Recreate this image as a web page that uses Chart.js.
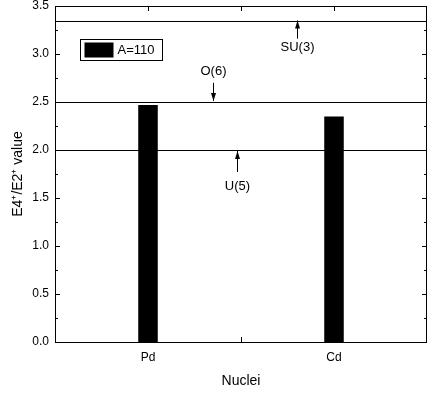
<!DOCTYPE html>
<html>
<head>
<meta charset="utf-8">
<script src="https://cdn.jsdelivr.net/npm/chart.js"></script>
<style>
  html, body { margin: 0; padding: 0; background: #fff; }
  #wrap { width: 432px; height: 394px; }
</style>
</head>
<body>
<div id="wrap"><canvas id="chart" width="432" height="394"></canvas></div>
<script>
const nuclei = ['Pd', 'Cd'];
const ratioA110 = [2.47, 2.35];
const seriesLabel = 'A=110';
// symmetry limits of E4/E2
const limitNames = ['SU(3)', 'O(6)', 'U(5)'];
const limitValues = [3.34, 2.5, 2.0];

const FONT = "'Liberation Sans Narrow', 'Liberation Sans', Arial, sans-serif";

// arrow labels: x as category index, text pos y in data units, arrow from/to
const labels = [
  { name: limitNames[0], x: 0.8, textY: 3.07, from: 3.16, to: 3.35 },
  { name: limitNames[1], x: 0.35, textY: 2.82, from: 2.7, to: 2.51 },
  { name: limitNames[2], x: 0.48, textY: 1.62, from: 1.77, to: 1.99 }
];

function arrow(ctx, x, y1, y2) {
  ctx.beginPath();
  ctx.moveTo(x, y1);
  ctx.lineTo(x, y2);
  ctx.stroke();
  const d = y2 > y1 ? 1 : -1;
  ctx.beginPath();
  ctx.moveTo(x, y2);
  ctx.lineTo(x - 2.5, y2 - d * 8);
  ctx.lineTo(x + 2.5, y2 - d * 8);
  ctx.closePath();
  ctx.fill();
}

const decor = {
  id: 'decor',
  beforeDatasetsDraw(chart) {
    const { ctx, chartArea: a, scales: { y } } = chart;
    ctx.save();
    ctx.strokeStyle = '#000';
    ctx.lineWidth = 1;
    limitValues.forEach(v => {
      const py = Math.round(y.getPixelForValue(v)) + 0.5;
      ctx.beginPath();
      ctx.moveTo(a.left, py);
      ctx.lineTo(a.right, py);
      ctx.stroke();
    });
    ctx.restore();
  },
  afterDatasetsDraw(chart) {
    const { ctx, chartArea: a, scales: { x, y } } = chart;
    ctx.save();
    ctx.strokeStyle = '#000';
    ctx.fillStyle = '#000';
    ctx.lineWidth = 1;
    // frame
    ctx.strokeRect(a.left + 0.5, a.top + 0.5, a.right - a.left - 1, a.bottom - a.top);
    // y ticks, inward, both sides
    for (let v = 0; v <= 3.5001; v += 0.25) {
      const py = Math.round(y.getPixelForValue(v)) + 0.5;
      const major = Math.abs(v * 2 - Math.round(v * 2)) < 1e-6;
      const len = major ? 5 : 3;
      ctx.beginPath();
      ctx.moveTo(a.left, py); ctx.lineTo(a.left + len, py);
      ctx.moveTo(a.right, py); ctx.lineTo(a.right - len, py);
      ctx.stroke();
    }
    // x ticks, inward, top and bottom
    [0, 0.5, 1].forEach(i => {
      const px = Math.round(x.getPixelForValue(i)) + 0.5;
      ctx.beginPath();
      ctx.moveTo(px, a.top); ctx.lineTo(px, a.top + 5);
      ctx.moveTo(px, a.bottom); ctx.lineTo(px, a.bottom - 5);
      ctx.stroke();
    });
    // arrow labels
    ctx.font = '13px ' + FONT;
    ctx.textAlign = 'center';
    ctx.textBaseline = 'middle';
    labels.forEach(l => {
      const px = Math.round(x.getPixelForValue(l.x)) + 0.5;
      ctx.fillText(l.name, px, y.getPixelForValue(l.textY));
      arrow(ctx, px, y.getPixelForValue(l.from), y.getPixelForValue(l.to));
    });
    // legend box
    const lx = 80.5, ly = 39.5, lw = 82, lh = 21;
    ctx.strokeRect(lx, ly, lw, lh);
    ctx.fillRect(lx + 4, ly + 3, 29, lh - 6);
    ctx.textAlign = 'left';
    ctx.fillText(seriesLabel, lx + 37, ly + lh / 2 + 0.5);
    ctx.restore();
  }
};

new Chart(document.getElementById('chart'), {
  type: 'bar',
  data: {
    labels: nuclei,
    datasets: [{
      label: seriesLabel,
      data: ratioA110,
      backgroundColor: '#000',
      borderWidth: 0,
      categoryPercentage: 1,
      barPercentage: 0.105
    }]
  },
  options: {
    responsive: false,
    animation: false,
    devicePixelRatio: 1,
    layout: { padding: { left: 0, right: 5, top: 6, bottom: 0 } },
    plugins: { legend: { display: false }, tooltip: { enabled: false } },
    scales: {
      x: {
        offset: true,
        grid: { display: false, drawTicks: false },
        border: { display: false },
        ticks: { color: '#000', font: { family: FONT, size: 12 }, padding: 8 },
        title: { display: true, text: 'Nuclei', color: '#000', font: { family: FONT, size: 14 }, padding: { top: 9 } },
        afterFit(s) { s.height = 52; }
      },
      y: {
        min: 0,
        max: 3.5,
        grid: { display: false, drawTicks: false },
        border: { display: false },
        ticks: {
          stepSize: 0.5,
          color: '#000',
          font: { family: FONT, size: 12 },
          padding: 6,
          callback: v => v.toFixed(1)
        },
        title: { display: true, text: 'E4\u207A/E2\u207A value', color: '#000', font: { family: FONT, size: 14 }, padding: { top: 10, bottom: 4 } },
        afterFit(s) { s.width = 55; s.paddingTop = 0; s.paddingBottom = 0; }
      }
    }
  },
  plugins: [decor]
});
</script>
</body>
</html>
